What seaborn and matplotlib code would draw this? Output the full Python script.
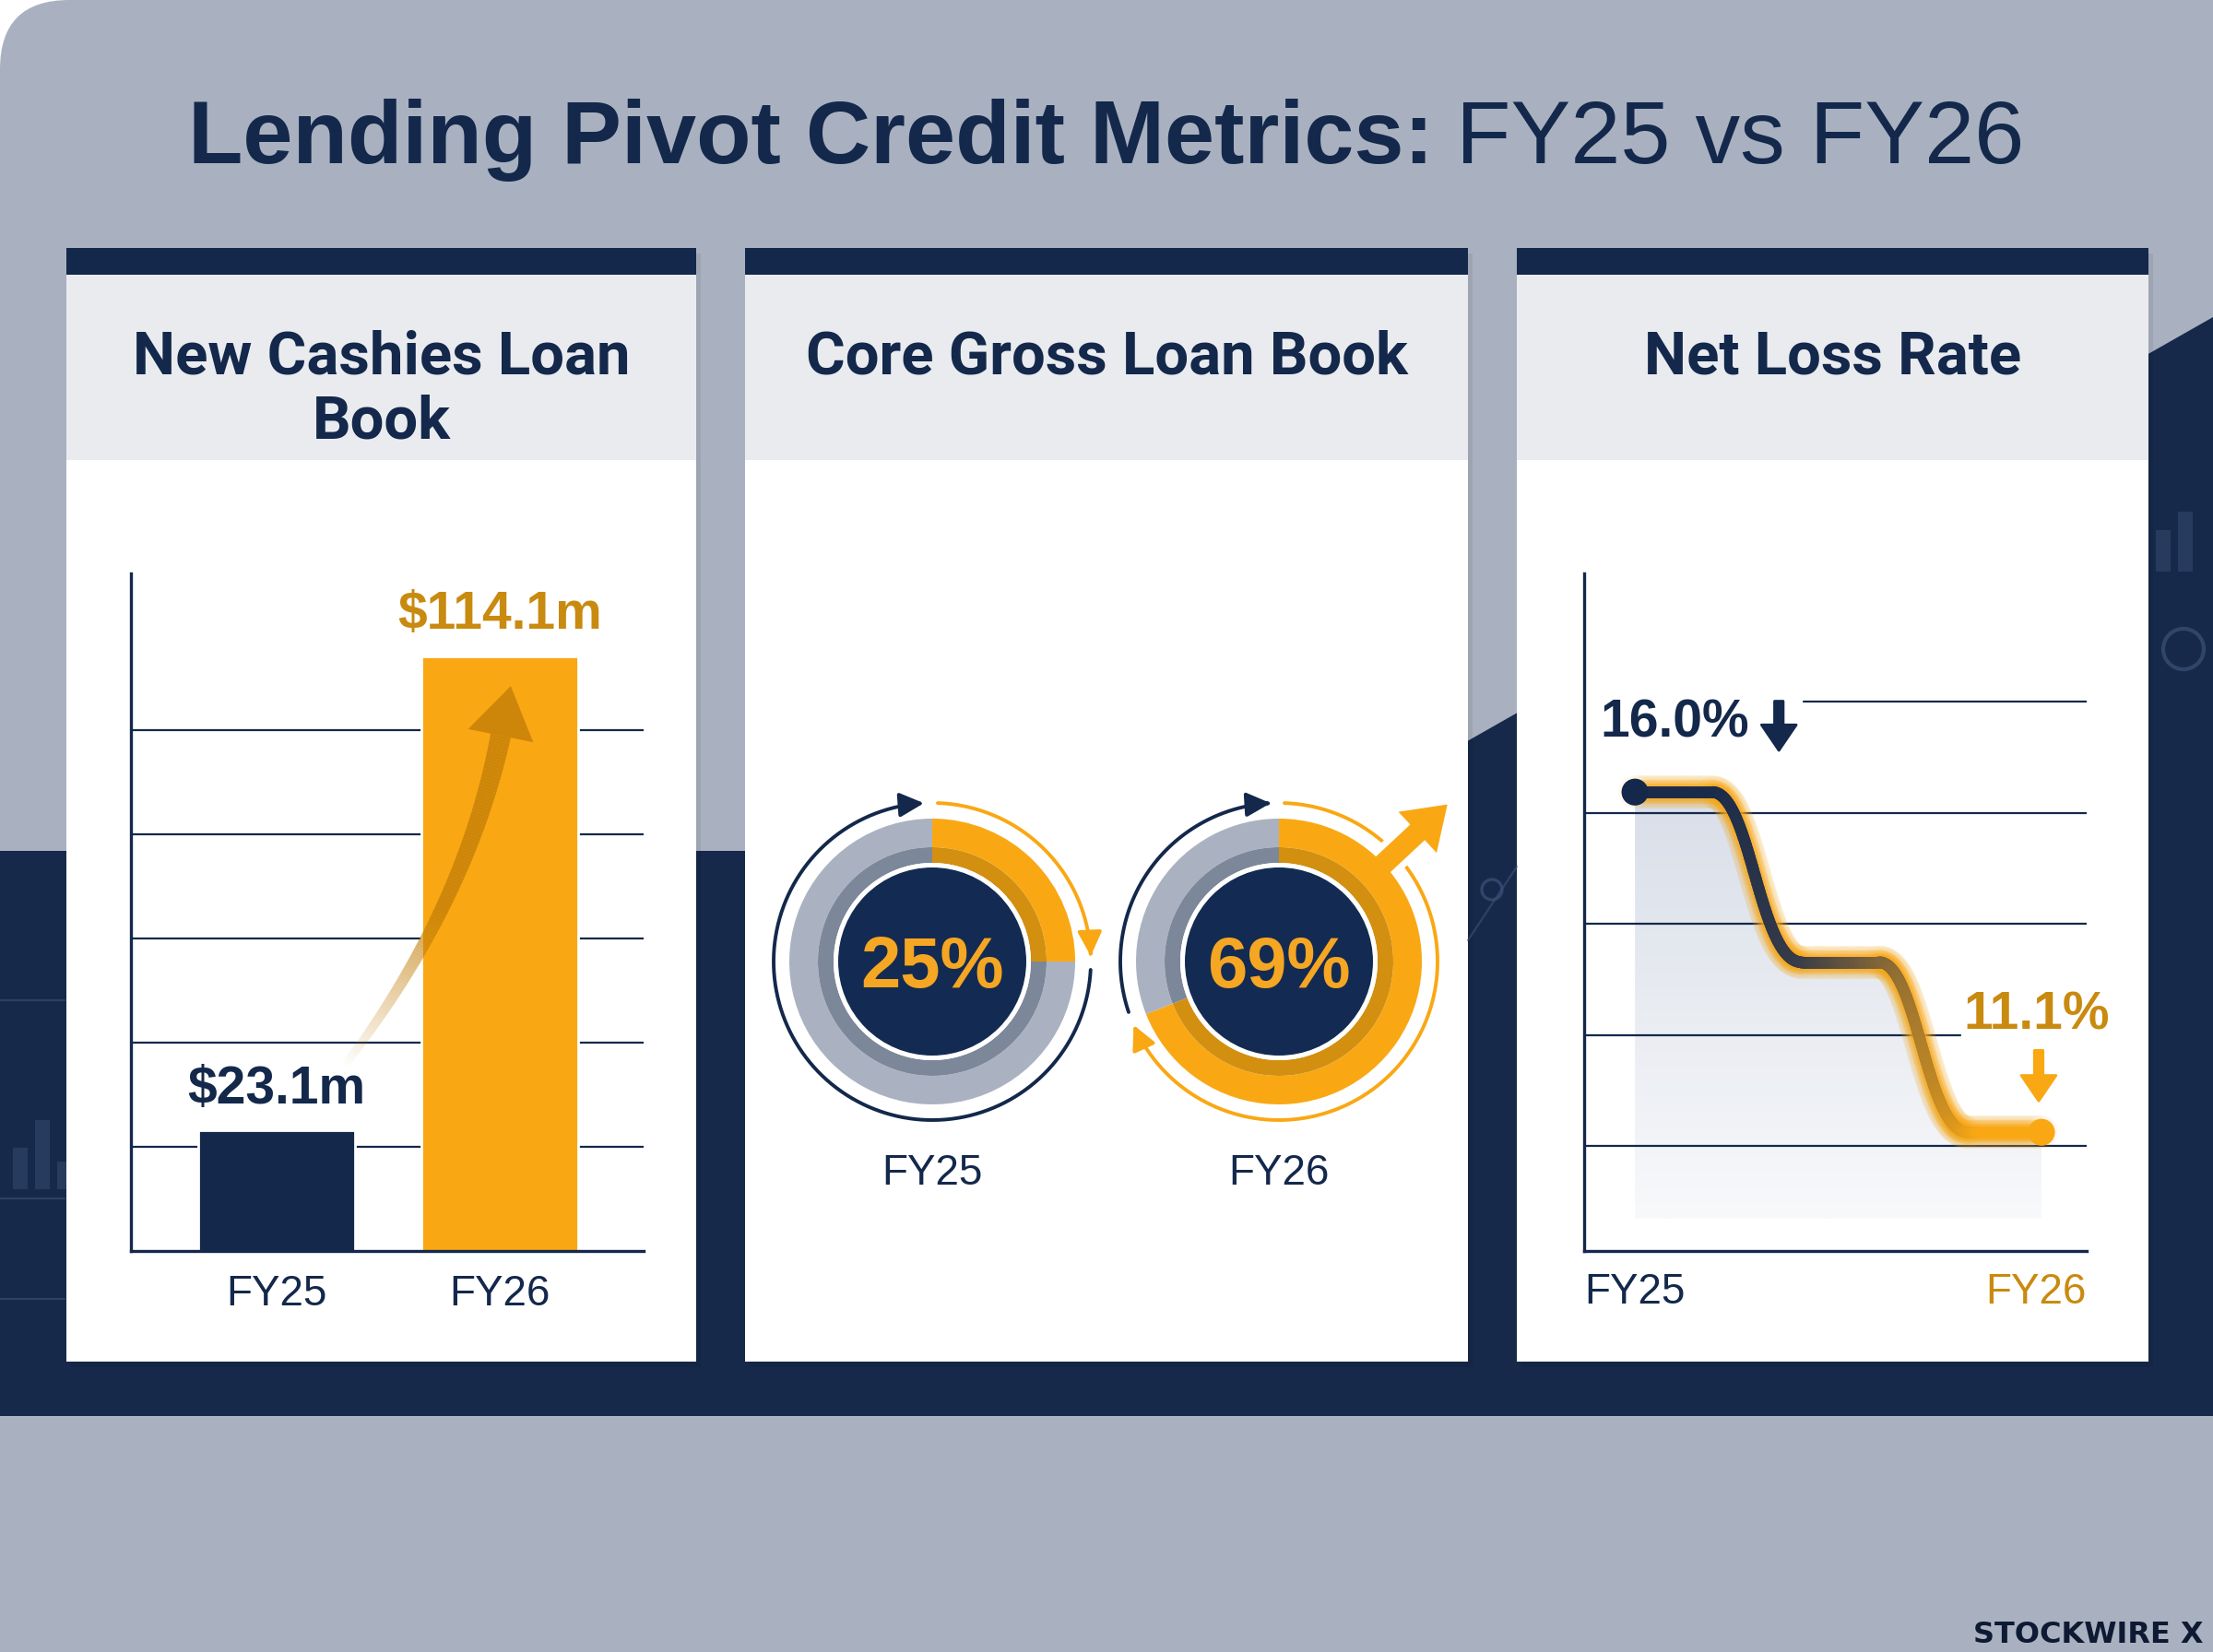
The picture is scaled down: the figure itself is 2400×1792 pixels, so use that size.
# Lending pivot credit metrics, FY25 vs FY26 – three panel infographic

import numpy as np
import pandas as pd
import matplotlib
matplotlib.use('Agg')
import matplotlib.pyplot as plt
import seaborn as sns
from matplotlib.patches import Rectangle, Circle, Polygon, FancyArrowPatch, FancyBboxPatch
from matplotlib.path import Path
from matplotlib.collections import LineCollection
from matplotlib.colors import to_rgba, LinearSegmentedColormap

# ---- data ----
years = ['FY25', 'FY26']
cashies_loan_book = [23.1, 114.1]      # $m
core_gross_share = [25, 69]            # % of core gross loan book
net_loss_rate = [16.0, 11.1]           # %
bar_grid = [20, 40, 60, 80, 100]
loss_grid = [10.9, 12.5, 14.1, 15.7, 17.3]

panel_titles = [['New Cashies Loan', 'Book'], ['Core Gross Loan Book'], ['Net Loss Rate']]

# ---- colours ----
NAVY = '#13284b'
NAVY_CORE = '#132b52'
BAND = '#17294a'
BG = '#a9b1c0'
HEADER = '#e9ebef'
GOLD = '#f9a814'
GOLD_DARK = '#d38f10'
GOLD_TEXT = '#c98a10'
RING = '#aab2c2'
RING_DARK = '#7d879a'

W, H, DPI = 2400, 1792, 200

sns.set_theme(style='white')
plt.rcParams['font.family'] = ['Liberation Sans', 'DejaVu Sans']

fig = plt.figure(figsize=(W / DPI, H / DPI), dpi=DPI)
fig.patch.set_facecolor('white')


def px_axes(x0, y0, x1, y1, z=1):
    """Axes placed by pixel box (y measured from the top)."""
    ax = fig.add_axes([x0 / W, 1 - y1 / H, (x1 - x0) / W, (y1 - y0) / H])
    ax.set_zorder(z)
    ax.patch.set_alpha(0)
    return ax


# ---- background ----
bg = px_axes(0, 0, W, H, z=0)
bg.set_xlim(0, W)
bg.set_ylim(H, 0)
bg.axis('off')

bg.add_patch(FancyBboxPatch((0, 0), W + 300, H + 300,
                            boxstyle='round,pad=0,rounding_size=75', fc=BG, ec='none'))
bg.add_patch(Polygon([(0, 923), (1382, 923), (W, 344), (W, 1536), (0, 1536)],
                     closed=True, fc=BAND, ec='none'))

# faint chart doodles in the dark band
for x, y0, h in [(14, 1245, 45), (38, 1215, 75), (62, 1260, 30), (2338, 575, 45), (2362, 555, 65)]:
    bg.add_patch(Rectangle((x, y0), 16, h, fc='#3b5278', alpha=0.45, ec='none'))
for y in [1085, 1300, 1409]:
    bg.plot([0, 70], [y, y], color='#3b5278', lw=0.8, alpha=0.6)
bg.add_patch(Circle((2368, 704), 22, fc='none', ec='#3b5278', lw=1.5, alpha=0.7))
bg.add_patch(Circle((1618, 965), 11, fc='none', ec='#3b5278', lw=1.2, alpha=0.7))
bg.plot([1592, 1645], [1020, 940], color='#3b5278', lw=0.8, alpha=0.6)

# ---- panels ----
panels = [(72, 755), (808, 1592), (1645, 2330)]
for (x0, x1), lines in zip(panels, panel_titles):
    bg.add_patch(Rectangle((x0 + 5, 275), x1 - x0, 1477 - 269, fc='black', alpha=0.07, ec='none'))
    bg.add_patch(Rectangle((x0, 298), x1 - x0, 1477 - 298, fc='white', ec='none'))
    bg.add_patch(Rectangle((x0, 298), x1 - x0, 499 - 298, fc=HEADER, ec='none'))
    bg.add_patch(Rectangle((x0, 269), x1 - x0, 29, fc=NAVY, ec='none'))
    for k, line in enumerate(lines):
        bg.text((x0 + x1) / 2, 405 + 70 * k, line, ha='center', va='baseline', fontsize=23.5,
                fontweight='bold', color=NAVY, family=['Roboto', 'DejaVu Sans'])

# ---- title (bold + regular on one line) ----
t1 = bg.text(0, 177, 'Lending Pivot Credit Metrics:', fontsize=35, fontweight='bold',
             color=NAVY, ha='left', va='baseline')
t2 = bg.text(0, 177, 'FY25 vs FY26', fontsize=35, color=NAVY, ha='left', va='baseline')
renderer = fig.canvas.get_renderer()
w1 = t1.get_window_extent(renderer).width
w2 = t2.get_window_extent(renderer).width
gap = 24
x_start = W / 2 - (w1 + gap + w2) / 2
t1.set_x(x_start)
t2.set_x(x_start + w1 + gap)

bg.text(2390, 1782, 'STOCKWIRE X', ha='right', va='baseline', fontsize=11.5,
        fontweight='bold', family='DejaVu Sans', color='#0e1a33')


def style_axes(ax):
    sns.despine(ax=ax)
    for side in ['left', 'bottom']:
        ax.spines[side].set_color(NAVY)
        ax.spines[side].set_linewidth(1.2)
    ax.set_xlabel('')
    ax.set_ylabel('')
    ax.set_yticks([])


# ---- panel 1: bar chart ----
ax1 = px_axes(142, 622, 698, 1357, z=2)
df1 = pd.DataFrame({'year': years, 'value': cashies_loan_book})
sns.barplot(data=df1, x='year', y='value', hue='year', palette=[NAVY, GOLD],
            width=0.70, saturation=1, legend=False, ax=ax1)
ax1.set_xlim(-0.653, 1.645)
ax1.set_ylim(0, 130)
style_axes(ax1)
for v in bar_grid:
    ax1.axhline(v, color=NAVY, lw=0.8, zorder=0.5)
ax1.tick_params(axis='x', length=0, pad=9, labelsize=16.5, labelcolor=NAVY)
for i, v in enumerate(cashies_loan_book):
    ax1.annotate(f'${v}m', (i, v), xytext=(0, 16), textcoords='offset points',
                 ha='center', va='center', fontsize=20.5, fontweight='bold',
                 color=[NAVY, GOLD_TEXT][i])

# rising arrow (fades in from the FY25 label)
p0, p1, p2 = np.array([372., 1158.]), np.array([505., 985.]), np.array([543., 798.])
tt = np.linspace(0, 1, 120)[:, None]
pts = (1 - tt) ** 2 * p0 + 2 * (1 - tt) * tt * p1 + tt ** 2 * p2
segs = np.stack([pts[:-1], pts[1:]], axis=1)
arrow_rgb = to_rgba('#c27d08')[:3]
alphas = np.clip(np.linspace(0.0, 1.6, len(segs)), 0, 0.78)
lc = LineCollection(segs, colors=[(*arrow_rgb, a) for a in alphas],
                    linewidths=np.linspace(3.0, 8.0, len(segs)), capstyle='butt',
                    transform=bg.transData, zorder=3)
ax1.add_collection(lc, autolim=False)
d = (p2 - p1) / np.linalg.norm(p2 - p1)
nrm = np.array([-d[1], d[0]])
head = [p2 + 55 * d, p2 + 36 * nrm, p2 - 36 * nrm]
ax1.add_patch(Polygon(head, closed=True, fc=(*arrow_rgb, 0.78), ec='none',
                      transform=bg.transData, zorder=3))

# ---- panel 2: donuts ----
ax2 = px_axes(808, 499, 1592, 1477, z=2)
centers = [(203, 434), (579, 434)]
for c, s, lab in zip(centers, core_gross_share, years):
    ax2.pie([s, 100 - s], colors=[GOLD, RING], radius=155, center=c, startangle=90,
            counterclock=False, wedgeprops=dict(width=31, linewidth=0, zorder=2))
    ax2.pie([s, 100 - s], colors=[GOLD_DARK, RING_DARK], radius=124, center=c, startangle=90,
            counterclock=False, wedgeprops=dict(width=17, linewidth=0, zorder=2))
    ax2.add_patch(Circle(c, 107, fc='white', ec='none', zorder=2))
    ax2.add_patch(Circle(c, 102, fc=NAVY_CORE, ec='none', zorder=2))
    ax2.text(c[0], c[1], f'{s}%', ha='center', va='center_baseline', fontsize=28,
             fontweight='bold', color='#f5a623', zorder=3)
    ax2.text(c[0], 204, lab, ha='center', va='center', fontsize=16.5, color=NAVY)

    # thin outer arcs with arrowheads
    deg = s * 3.6
    for a1, a2, col in [(88, 90 - deg + 2, GOLD), (90 - deg - 3, -267, NAVY)]:
        ang = np.radians(np.linspace(a1, a2, 120))
        arc = np.column_stack([c[0] + 172 * np.cos(ang), c[1] + 172 * np.sin(ang)])
        ax2.add_patch(FancyArrowPatch(path=Path(arc), arrowstyle='-|>,head_length=0.4,head_width=0.2',
                                      mutation_scale=20, color=col, lw=1.4, zorder=1))

# big growth arrow on FY26 (base hidden under the ring)
c = centers[1]
u = np.array([np.cos(np.radians(43)), np.sin(np.radians(43))])
start = np.array(c) + 135 * u
ax2.arrow(start[0], start[1], *(121 * u), width=30, head_width=74, head_length=54,
          length_includes_head=True, fc=GOLD, ec='white', lw=2.5, zorder=1.5)
ax2.set_xlim(0, 784)
ax2.set_ylim(0, 978)
ax2.set_aspect('equal')
ax2.axis('off')

# ---- panel 3: net loss rate ----
ax3 = px_axes(1718, 622, 2263, 1357, z=2)
v0, v1 = net_loss_rate
vm = (v0 + v1) / 2


def bezier(a, b, c_, d_, n=60):
    t = np.linspace(0, 1, n)[:, None]
    return ((1 - t) ** 3 * a + 3 * (1 - t) ** 2 * t * b + 3 * (1 - t) * t ** 2 * c_ + t ** 3 * d_)


P = lambda x, y: np.array([x, y])
curve = np.vstack([
    np.linspace(P(0, v0), P(0.19, v0), 20),
    bezier(P(0.19, v0), P(0.285, v0), P(0.305, vm), P(0.41, vm)),
    np.linspace(P(0.41, vm), P(0.60, vm), 20),
    bezier(P(0.60, vm), P(0.695, vm), P(0.715, v1), P(0.82, v1)),
    np.linspace(P(0.82, v1), P(1.0, v1), 20),
])

# shaded area under the line
base = 9.86
poly = Polygon(np.vstack([curve, [[1, base], [0, base]]]), closed=True, fc='none', ec='none')
ax3.add_patch(poly)
shade = LinearSegmentedColormap.from_list('shade', ['#f8f9fb', '#d6dce7'])
im = ax3.imshow(np.linspace(0, 1, 200)[:, None], extent=[0, 1, base, v0 + 0.2],
                origin='lower', cmap=shade, aspect='auto', zorder=0.6, alpha=0.95)
im.set_clip_path(poly)

for g in loss_grid:
    xmin = 0.437 if g == max(loss_grid) else 0
    xmax = 0.749 if g == loss_grid[1] else 1
    ax3.axhline(g, xmin=xmin, xmax=xmax, color=NAVY, lw=0.8, zorder=0.8)

segs3 = np.stack([curve[:-1], curve[1:]], axis=1)
for lw, a in [(13, 0.06), (9.5, 0.10), (7, 0.14)]:
    ax3.add_collection(LineCollection(segs3, colors=[to_rgba(GOLD, a)], linewidths=lw,
                                      capstyle='round', zorder=2), autolim=False)
blend = LinearSegmentedColormap.from_list('blend', ['#1a2b4a', '#3a3d48', '#8a6a35', GOLD])
mid_x = (segs3[:, 0, 0] + segs3[:, 1, 0]) / 2
frac = np.clip((mid_x - 0.2) / 0.65, 0, 1)
ax3.add_collection(LineCollection(segs3, colors=blend(frac), linewidths=4.6,
                                  capstyle='round', zorder=3), autolim=False)

sns.scatterplot(x=list(range(len(years))), y=net_loss_rate, hue=years,
                palette=[NAVY, GOLD], s=110, legend=False, edgecolor='none', zorder=4, ax=ax3)

ax3.annotate(f'{v0}%', (0, v0), xytext=(15.5, 27), textcoords='offset points',
             ha='center', va='center', fontsize=20.5, fontweight='bold', color=NAVY)
ax3.annotate(f'{v1}%', (1, v1), xytext=(-1.8, 45.7), textcoords='offset points',
             ha='center', va='center', fontsize=20.5, fontweight='bold', color=GOLD_TEXT)
ax3.annotate('', xy=(0.354, v0 + 0.6), xytext=(0.354, v0 + 1.31),
             arrowprops=dict(arrowstyle='simple,head_length=0.5,head_width=0.68,tail_width=0.17',
                             color=NAVY, mutation_scale=20, shrinkA=0, shrinkB=0))
ax3.annotate('', xy=(0.993, v1 + 0.45), xytext=(0.993, v1 + 1.18),
             arrowprops=dict(arrowstyle='simple,head_length=0.5,head_width=0.68,tail_width=0.17',
                             color=GOLD, mutation_scale=20, shrinkA=0, shrinkB=0))

ax3.set_xlim(-0.125, 1.111)
ax3.set_ylim(9.39, 19.15)
style_axes(ax3)
ax3.set_xticks([])
ax3.text(0, -0.061, years[0], transform=ax3.transAxes, ha='left', va='center',
         fontsize=16.5, color=NAVY)
ax3.text(1, -0.061, years[1], transform=ax3.transAxes, ha='right', va='center',
         fontsize=16.5, color=GOLD_TEXT)

fig.savefig('out.png', dpi=DPI)
